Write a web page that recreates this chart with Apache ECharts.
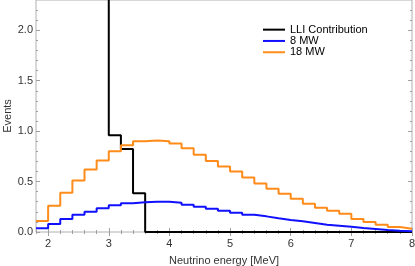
<!DOCTYPE html>
<html>
<head>
<meta charset="utf-8">
<script src="https://cdn.jsdelivr.net/npm/echarts@6/dist/echarts.min.js"></script>
<style>
html,body{margin:0;padding:0;background:#fff;}
#c{width:415px;height:266px;}
</style>
</head>
<body>
<div id="c"></div>
<script>
// Bin left edges (MeV), bin width 0.2, last edge closes the histogram
const binEdges = [1.8,2.0,2.2,2.4,2.6,2.8,3.0,3.2,3.4,3.6,3.8,4.0,4.2,4.4,4.6,4.8,5.0,5.2,5.4,5.6,5.8,6.0,6.2,6.4,6.6,6.8,7.0,7.2,7.4,7.6,7.8,8.0];
// 18 MW
const mw18 = [0.11,0.26,0.39,0.51,0.62,0.71,0.80,0.86,0.90,0.907,0.90,0.877,0.83,0.765,0.705,0.65,0.60,0.54,0.48,0.43,0.38,0.33,0.28,0.24,0.21,0.18,0.13,0.10,0.073,0.05,0.033];
// 8 MW
const mw8 = [0.037,0.08,0.13,0.17,0.20,0.235,0.265,0.285,0.295,0.30,0.30,0.29,0.27,0.25,0.23,0.21,0.19,0.17,0.155,0.136,0.12,0.106,0.09,0.073,0.063,0.053,0.04,0.03,0.02,0.012,0.008];
// LLI contribution (first bin is off scale)
const lliX = [3.0,3.0,3.2,3.4,3.6,8.0];
const lliY = [3.0,0.96,0.824,0.384,0,0];

const xMajor = [2,3,4,5,6,7,8];
const xMinor = [1.8,2.2,2.4,2.6,2.8,3.2,3.4,3.6,3.8,4.2,4.4,4.6,4.8,5.2,5.4,5.6,5.8,6.2,6.4,6.6,6.8,7.2,7.4,7.6,7.8];
const yMajor = [0,0.5,1.0,1.5,2.0];
const yMinor = [0.1,0.2,0.3,0.4,0.6,0.7,0.8,0.9,1.1,1.2,1.3,1.4,1.6,1.7,1.8,1.9,2.1,2.2];

function hist(vals){
  const d = [];
  for (let i=0;i<vals.length;i++) d.push([binEdges[i], vals[i]]);
  d.push([binEdges[vals.length], vals[vals.length-1]]);
  return d;
}
const lliData = lliX.map((x,i)=>[x,lliY[i]]);

const FONT = "'Liberation Sans', Arial, sans-serif";
const TICK = '#a0a0a0';
function xa(pos, vals, len, labels){
  return {type:'value', position:pos, min:1.8, max:8,
    axisLine:{show:false}, splitLine:{show:false},
    axisTick:{show:true, inside:true, length:len, customValues:vals, lineStyle:{color:TICK}},
    axisLabel: labels ? {show:true, customValues:vals, margin:6, color:'#333', fontSize:11, fontFamily:FONT} : {show:false},
    name: (labels && pos==='bottom') ? 'Neutrino energy [MeV]' : '',
    nameLocation:'middle', nameGap:23,
    nameTextStyle:{fontSize:11, fontFamily:FONT, color:'#333'}
  };
}
function ya(pos, vals, len, labels){
  return {type:'value', position:pos, min:0, max:2.3,
    axisLine:{show:false}, splitLine:{show:false},
    axisTick:{show:true, inside:true, length:len, customValues:vals, lineStyle:{color:TICK}},
    axisLabel: labels ? {show:true, customValues:vals, margin:3, color:'#333', fontSize:11, fontFamily:FONT, formatter:v=>v.toFixed(1)} : {show:false},
    name: (labels && pos==='left') ? 'Events' : '',
    nameLocation:'middle', nameGap:23, nameRotate:90, nameMoveOverlap:false,
    nameTextStyle:{fontSize:11, fontFamily:FONT, color:'#333'}
  };
}

const chart = echarts.init(document.getElementById('c'), null, {renderer:'canvas'});
chart.setOption({
  animation:false,
  backgroundColor:'#fff',
  grid:{left:36, right:3, top:0, bottom:34, containLabel:false, outerBoundsMode:'none', show:true, borderColor:'#b0b0b0', borderWidth:1, backgroundColor:'transparent'},
  legend:{
    orient:'vertical', left:258, top:19, itemWidth:22, itemHeight:2, itemGap:0,
    icon:'rect',
    textStyle:{fontSize:11, fontFamily:FONT, color:'#000', lineHeight:11.3},
    data:['LLI Contribution','8 MW','18 MW']
  },
  xAxis:[xa('bottom',xMajor,4,true), xa('bottom',xMinor,2,false), xa('top',xMajor,4,false), xa('top',xMinor,2,false)],
  yAxis:[ya('left',yMajor,4,true), ya('left',yMinor,2,false), ya('right',yMajor,4,false), ya('right',yMinor,2,false)],
  series:[
    {name:'LLI Contribution', type:'line', step:'end', data:lliData, showSymbol:false, color:'#000', lineStyle:{color:'#000', width:2}, xAxisIndex:0, yAxisIndex:0, z:3},
    {name:'8 MW', type:'line', step:'end', data:hist(mw8), showSymbol:false, color:'#1010ff', lineStyle:{color:'#1010ff', width:2}, xAxisIndex:0, yAxisIndex:0, z:4},
    {name:'18 MW', type:'line', step:'end', data:hist(mw18), showSymbol:false, color:'#ff8c1a', lineStyle:{color:'#ff8c1a', width:2}, xAxisIndex:0, yAxisIndex:0, z:5}
  ]
});
</script>
</body>
</html>
